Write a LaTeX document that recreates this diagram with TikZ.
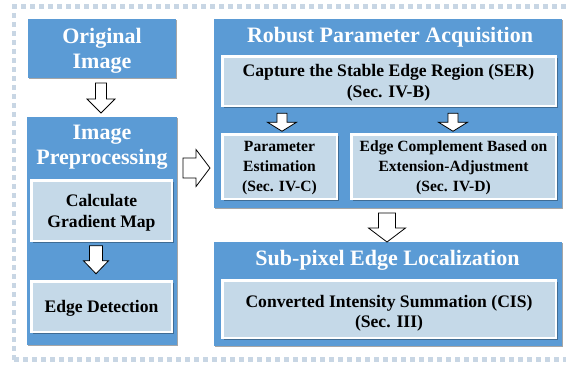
\documentclass[tikz,border=0pt]{standalone}
\usepackage{fontspec}
\setmainfont{Liberation Serif}
\usetikzlibrary{shadows,calc}
\definecolor{blu}{HTML}{5B9BD5}
\definecolor{pale}{HTML}{C5D9E8}
\definecolor{dotc}{HTML}{C8D6E4}
\newcommand\blkdown[5]{%
  \draw[blk] (#1) ++(-#2,0) -- ++(0,#4) -- ++({#2-#3},0) -- ++(#3,#5) -- ++(#3,-#5) -- ++({#2-#3},0) -- ++(0,-#4) -- cycle;}
\newcommand\blkright[5]{%
  \draw[blk] (#1) ++(0,-#2) -- ++(#4,0) -- ++(0,{#2-#3}) -- ++(#5,#3) -- ++(-#5,#3) -- ++(0,{#2-#3}) -- ++(-#4,0) -- cycle;}
\begin{document}
\begin{tikzpicture}[x=1pt,y=-1pt,
  bluebox/.style={fill=blu, draw=none, inner sep=0, outer sep=0,
    drop shadow={shadow xshift=1.2pt,shadow yshift=-1.2pt,opacity=0.35,fill=black}},
  inbox/.style={fill=pale, draw=white, line width=2.5pt, inner sep=0, outer sep=0,
    drop shadow={shadow xshift=2.2pt,shadow yshift=-2.2pt,opacity=0.3,fill=black}},
  ttl/.style={text=white, font=\fontsize{22}{25}\selectfont\bfseries, align=center, inner sep=0},
  itxt/.style={text=black, font=\fontsize{17.6}{20.5}\selectfont\bfseries, align=center, inner sep=0},
  stxt/.style={text=black, font=\fontsize{15.6}{20}\selectfont\bfseries, align=center, inner sep=0},
  blk/.style={draw=black, fill=white, line width=0.8pt, line join=miter}]
\useasboundingbox (0,0) rectangle (566,365);
\fill[white] (0,0) rectangle (566,365);
% dotted frame
\draw[dotc, line width=4.5pt, dash pattern=on 4.5pt off 4.5pt] (14,359.5) -- (14,6.5) -- (566,6.5);
\draw[dotc, line width=4.5pt, dash pattern=on 4.5pt off 4.5pt] (14,359.5) -- (566,359.5);
% left column
\node[bluebox, minimum width=148pt, minimum height=59pt] (orig) at (102,48.5) {};
\node[ttl] (origt) at (102,50.4) {Original\\Image};
\node[bluebox, minimum width=150pt, minimum height=228pt] (prep) at (102,231) {};
\node[ttl] (prept) at (102,147.6) {Image\\Preprocessing};
\node[inbox, minimum width=140.5pt, minimum height=60.5pt] (grad) at (101.5,210.5) {};
\node[itxt] (gradt) at (101.5,212.6) {Calculate\\Gradient Map};
\node[inbox, minimum width=140.5pt, minimum height=50.5pt] (edge) at (101.5,306.5) {};
\node[itxt, anchor=base] (edget) at (101.5,312) {Edge Detection};
% right column
\node[bluebox, minimum width=348pt, minimum height=189pt] (rpa) at (388,113.5) {};
\node[ttl, anchor=base] (rpat) at (390,42) {Robust Parameter Acquisition};
\node[inbox, minimum width=333.5pt, minimum height=49.5pt] (ser) at (389,81) {};
\node[itxt] (sert) at (388.5,82.6) {Capture the Stable Edge Region (SER)\\(Sec. IV-B)};
\node[inbox, minimum width=114.5pt, minimum height=64.5pt] (param) at (279.5,166.5) {};
\node[stxt] (paramt) at (279.5,168.2) {Parameter\\Estimation\\(Sec. IV-C)};
\node[inbox, minimum width=204.5pt, minimum height=64.5pt] (edgec) at (453.5,166.5) {};
\node[stxt] (edgect) at (453.5,168.2) {Edge Complement Based on\\Extension-Adjustment\\(Sec. IV-D)};
\node[bluebox, minimum width=348pt, minimum height=104pt] (sub) at (388,294) {};
\node[ttl, anchor=base] (subt) at (387.5,265) {Sub-pixel Edge Localization};
\node[inbox, minimum width=333.5pt, minimum height=57.5pt] (cis) at (389,309) {};
\node[itxt] (cist) at (389,313.3) {Converted Intensity Summation (CIS)\\(Sec. III)};
% block arrows
\blkdown{$(orig.south)+(-1,5)$}{5.5}{14}{16}{14}
\blkdown{$(grad.south)+(-5.5,5)$}{6.5}{12.5}{15}{13}
\blkdown{$(param.north)+(2.5,-21)$}{5}{14.5}{9}{9}
\blkdown{$(edgec.north)+(-0.5,-21)$}{5}{14.5}{9}{9}
\blkdown{$(rpa.south)+(-1,5)$}{8.5}{18.5}{15}{14}
\blkright{$(prep.east)+(6,-63)$}{10}{18.5}{13}{14}
\end{tikzpicture}
\end{document}
